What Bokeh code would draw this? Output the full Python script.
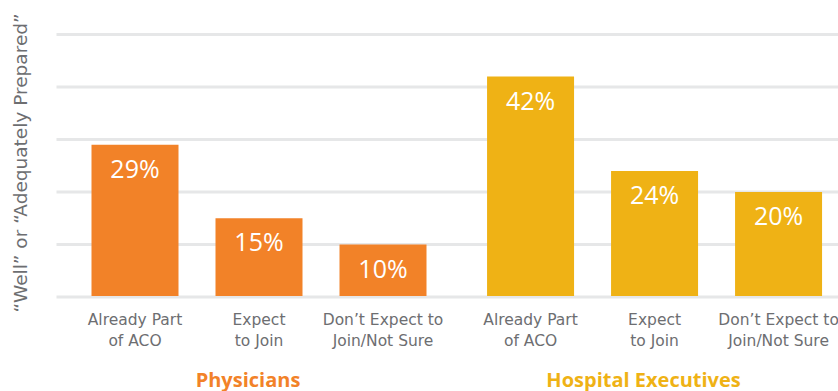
import math
from bokeh.plotting import figure
from bokeh.models import Range1d, ColumnDataSource
from bokeh.core.properties import value
from bokeh.embed import file_html
from bokeh.resources import INLINE

# ---- data ----
groups = ["Physicians", "Hospital Executives"]
categories = ["Already Part\nof ACO", "Expect\nto Join", "Don\u2019t Expect to\nJoin/Not Sure"]
physicians = [29, 15, 10]
hospital_execs = [42, 24, 20]
grid_ticks = [0, 10, 20, 30, 40, 50]
y_title = "\u201cWell\u201d or \u201cAdequately Prepared\u201d"

group_colors = ["#F28228", "#EFB215"]
FONT = "Open Sans"
LABEL_FONT = "DejaVu Sans"
GRAY = "#6D6E71"

W, H = 838, 391
# layout in pixel terms, converted to data units
unit_px = 124.0            # one category slot
x0_px = 134.5              # centre of first bar
group_gap = 0.19           # extra slots between groups
base_px = 296.5            # y pixel of 0%
pct_px = 5.25              # pixels per percent

def ux(px):
    return (px - x0_px) / unit_px

def uy(py):
    return (base_px - py) / pct_px

p = figure(width=W, height=H, output_backend="svg", toolbar_location=None,
           x_range=Range1d(ux(0), ux(W)), y_range=Range1d(uy(H), uy(0)),
           min_border=0, outline_line_color=None)
p.axis.visible = False
p.grid.visible = False
p.background_fill_color = "white"
p.border_fill_color = "white"

# gridlines
p.segment(x0=[ux(56)] * len(grid_ticks), x1=[ux(W)] * len(grid_ticks),
          y0=grid_ticks, y1=grid_ticks, line_color="#E6E7E8", line_width=3)

xs, tops, cols, labels, cats = [], [], [], [], []
for g, vals in enumerate([physicians, hospital_execs]):
    for i, v in enumerate(vals):
        xs.append(g * (len(categories) + group_gap) + i)
        tops.append(v)
        cols.append(group_colors[g])
        labels.append(f"{v}%")
        cats.append(categories[i])

src = ColumnDataSource(dict(x=xs, top=tops, color=cols, label=labels, cat=cats))

p.vbar(x="x", top="top", bottom=uy(295.5), width=87 / unit_px, color="color",
       line_color=None, source=src)

# value labels inside bars
p.text(x="x", y="top", text="label", source=src, text_color="white",
       text_font=value(FONT), text_font_size="25px", text_align="center",
       text_baseline="top", y_offset=6)

# category labels
p.text(x="x", y=uy(310.5), text="cat", source=src, text_color=GRAY,
       text_font=value(LABEL_FONT), text_font_size="15.5px", text_align="center",
       text_baseline="top", text_line_height=1.17)

# group labels
gx = [g * (len(categories) + group_gap) + 1 for g in range(len(groups))]
p.text(x=gx, y=[uy(378.5)] * len(groups), text=groups, text_color=group_colors,
       text_font=value(FONT), text_font_size="20px", text_font_style="bold",
       text_align="center", text_baseline="middle", x_offset=-11)

# y-axis title
p.text(x=[ux(20)], y=[uy(162.5)], text=[y_title], angle=math.pi / 2,
       text_color=GRAY, text_font=value(LABEL_FONT), text_font_size="18.5px",
       text_align="center", text_baseline="middle")

open("out.html", "w").write(file_html(p, INLINE))
